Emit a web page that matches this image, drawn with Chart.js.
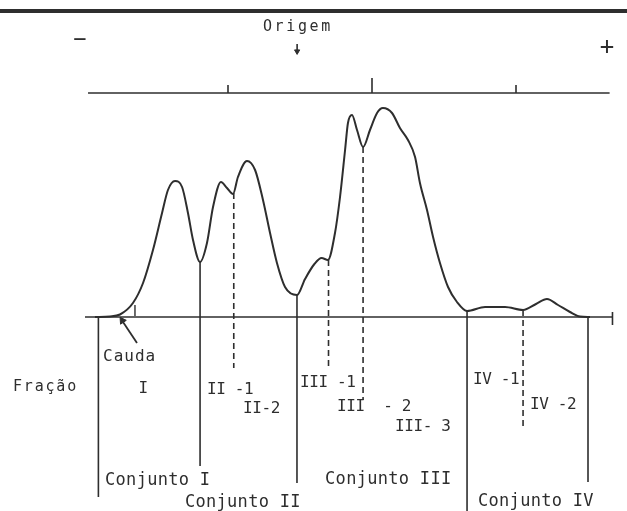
<!DOCTYPE html>
<html lang="pt">
<head>
<meta charset="UTF-8">
<title>Perfil de fracionamento - Conjuntos I a IV</title>
<script src="https://cdn.jsdelivr.net/npm/chart.js"></script>
<style>
  body { margin: 0; background: #ffffff; }
  #wrap { width: 627px; height: 511px; }
</style>
</head>
<body>
<div id="wrap"><canvas id="perfil" width="627" height="511"></canvas></div>
<script>
// distance along the strip (mm, ticks every 10) and reading height
const curveX = [0.76, 1.81, 2.5, 3.4, 4.1, 4.79, 5.42, 5.83, 6.32, 6.81, 7.22, 7.57, 8.06,
  8.54, 8.96, 9.51, 9.93, 10.35, 10.69, 11.32, 11.88, 12.43, 12.92, 13.4, 13.96, 14.79,
  15.35, 16.0, 16.5, 16.94, 17.43, 17.78, 18.13, 18.33, 18.61, 18.96, 19.38, 19.86, 20.35, 20.76,
  21.39, 21.94, 22.5, 22.99, 23.33, 23.82, 24.24, 24.72, 25.28, 25.9, 26.6,
  27.85, 29.24, 30.49, 31.39, 32.15, 32.92, 33.75, 34.44, 35.14];
const curveY = [0, 0.25, 1.25, 7, 17, 33.5, 52, 63.5, 68, 65, 52, 38.5, 27.5,
  37, 55, 67.5, 64.5, 61.5, 70, 78, 73.5, 58.5, 42, 27, 15, 11,
  19, 26.5, 29.5, 28.5, 42, 60, 83.5, 97, 101, 93.5, 85, 93.5, 102, 104.5,
  102, 94.5, 88.5, 80, 67, 53.5, 40, 27, 15, 7.5, 3,
  5, 5, 3.5, 6.5, 9, 6, 2.5, 0.25, 0];

// boundaries between the sets (solid) and between fractions (dashed)
const setCutX = [1.0, 8.06, 14.79, 26.6, 35.0];
const setCutTop = [0, 27.5, 11, 3, 0];
const setCutBottom = [-90, -74.5, -83, -97, -82.5];
const fracCutX = [10.4, 16.98, 19.38, 30.49];
const fracCutTop = [62, 28.5, 85, 3.5];
const fracCutBottom = [-25.5, -26.5, -41.5, -55.5];

// migration scale above the curve
const scaleTicks = [10, 20, 30];
const scaleTickTop = [116, 119.5, 116];

const fractionLabels = ['I', 'II -1', 'II-2', 'III -1', 'III  - 2', 'III- 3', 'IV -1', 'IV -2'];
const fractionSpots = [[4.1, -36], [8.54, -36.5], [11.04, -46], [15.0, -33], [17.57, -45], [21.6, -55], [27.01, -31.5], [30.97, -44]];
const setLabels = ['Conjunto I', 'Conjunto II', 'Conjunto III', 'Conjunto IV'];
const setSpots = [[1.46, -82], [7.01, -93], [16.74, -81.5], [27.36, -92.5]];

const ink = '#2e2e2e';
const mono = '"DejaVu Sans Mono", monospace';

function seg(x0, y0, x1, y1) {
  return [{x: x0, y: y0}, {x: x1, y: y1}];
}

function lineSet(data, width, dash) {
  return {
    data: data,
    showLine: true,
    borderColor: ink,
    borderWidth: width,
    borderDash: dash || [],
    pointRadius: 0,
    tension: 0
  };
}

const datasets = [];
// heavy rule at the top of the figure
datasets.push(lineSet(seg(-5.9, 153, 37.8, 153), 4));
// scale line and its ticks
datasets.push(lineSet(seg(0.28, 112, 36.5, 112), 1.6));
scaleTicks.forEach((t, i) => datasets.push(lineSet(seg(t, 112, t, scaleTickTop[i]), 1.6)));
// origin arrow
datasets.push(lineSet(seg(14.8, 136.5, 14.8, 133.5), 1.6));
datasets.push({
  data: [{x: 14.8, y: 132.8}], showLine: false, pointStyle: 'triangle', rotation: 180,
  pointRadius: 3, pointBackgroundColor: ink, pointBorderColor: ink
});
// baseline
datasets.push(lineSet(seg(0.07, 0, 36.7, 0), 1.6));
datasets.push(lineSet(seg(36.7, 2.5, 36.7, -4), 1.6));
// the densitometer curve
datasets.push({
  data: curveX.map((x, i) => ({x: x, y: curveY[i]})),
  showLine: true,
  borderColor: ink,
  borderWidth: 2,
  pointRadius: 0,
  cubicInterpolationMode: 'monotone'
});
setCutX.forEach((c, i) => datasets.push(lineSet(seg(c, setCutTop[i], c, setCutBottom[i]), 1.6)));
fracCutX.forEach((c, i) => datasets.push(lineSet(seg(c, fracCutTop[i], c, fracCutBottom[i]), 1.6, [6, 4])));
// tail mark and arrow
datasets.push(lineSet(seg(3.54, 6, 3.54, 0.5), 1.4));
datasets.push(lineSet(seg(3.68, -13, 2.71, -2.5), 1.8));
datasets.push({
  data: [{x: 2.66, y: -1.8}], showLine: false, pointStyle: 'triangle', rotation: -34,
  pointRadius: 4, pointBackgroundColor: ink, pointBorderColor: ink
});

const texts = [
  {text: 'Origem', at: [12.43, 145], size: 15, spacing: 2.6},
  {text: '\u2212', at: [-0.28, 138.5], size: 22, spacing: 0, align: 'center'},
  {text: '+', at: [36.32, 134.5], size: 24, spacing: 0, align: 'center'},
  {text: 'Fra\u00e7\u00e3o', at: [-4.93, -35], size: 15, spacing: 1.8},
  {text: 'Cauda', at: [1.32, -20], size: 16, spacing: 1.0}
];
fractionLabels.forEach((t, i) => texts.push({text: t, at: fractionSpots[i], size: 16, spacing: -0.4, align: t === 'I' ? 'center' : 'left'}));
setLabels.forEach((t, i) => texts.push({text: t, at: setSpots[i], size: 17, spacing: 0.3}));

const lettering = {
  id: 'lettering',
  afterDatasetsDraw(chart) {
    const ctx = chart.ctx;
    const sx = chart.scales.x;
    const sy = chart.scales.y;
    ctx.save();
    ctx.fillStyle = ink;
    ctx.textBaseline = 'middle';
    texts.forEach(t => {
      ctx.font = t.size + 'px ' + mono;
      ctx.letterSpacing = t.spacing + 'px';
      ctx.textAlign = t.align || 'left';
      ctx.fillText(t.text, sx.getPixelForValue(t.at[0]), sy.getPixelForValue(t.at[1]));
    });
    ctx.restore();
  }
};

new Chart(document.getElementById('perfil'), {
  type: 'scatter',
  data: {datasets: datasets},
  options: {
    responsive: false,
    animation: false,
    events: [],
    layout: {padding: 0, autoPadding: false},
    scales: {
      x: {type: 'linear', display: false, min: -5.833, max: 37.708},
      y: {type: 'linear', display: false, min: -97, max: 158.5}
    },
    plugins: {
      legend: {display: false},
      tooltip: {enabled: false}
    }
  },
  plugins: [lettering]
});
</script>
</body>
</html>
